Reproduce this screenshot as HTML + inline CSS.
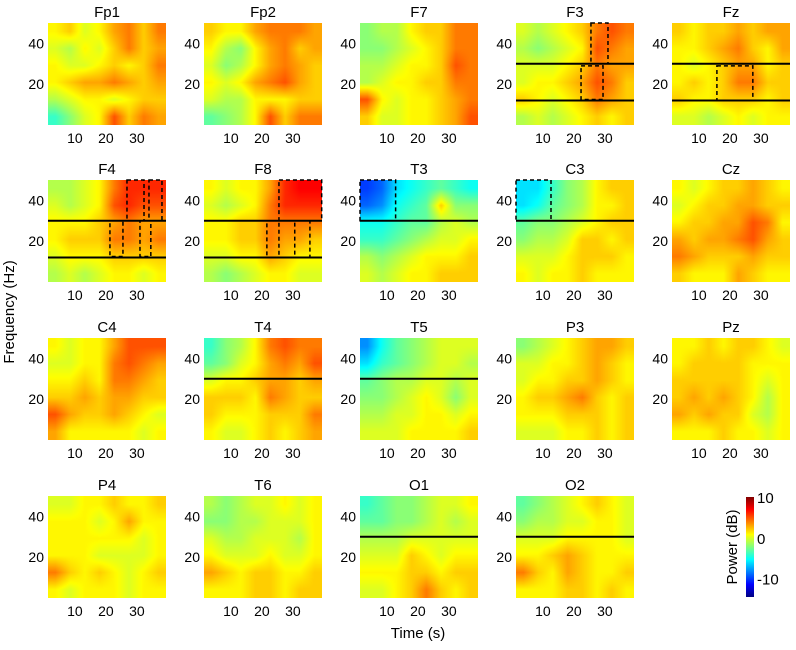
<!DOCTYPE html>
<html><head><meta charset="utf-8">
<style>
html,body{margin:0;padding:0;background:#fff;}
#root{position:relative;width:796px;height:650px;overflow:hidden;font-family:"Liberation Sans",Arial,sans-serif;}
canvas{position:absolute;}
svg{position:absolute;left:0;top:0;}
text{font-family:"Liberation Sans",Arial,sans-serif;fill:#000;}
</style></head>
<body>
<div id="root">
<svg id="ov" width="796" height="650"></svg>
</div>
<script>
// ---- data ----
const channels = ["Fp1","Fp2","F7","F3","Fz","F4","F8","T3","C3","Cz","C4","T4","T5","P3","Pz","P4","T6","O1","O2"];
const xTicks = [10,20,30];
const yTicks = [20,40];
const cbTicks = [10,0,-10];
const xDomain = [1.3,39.4];
const yDomain = [0,50];
const cDomain = [-14.5,10];
// power grids (dB): rows from high freq (top) to low freq (bottom), cols across time
const pFp1=[[1,2,0,1,3,4,2,4],[0,-1,1,0,2,4,2,3],[1,0,0,1,2,1,2,4],[1,2,3,3,4,3,2,3],[-1,0,1,1,0,1,2,2],[-4,-2,0,1,5,2,4,3]];
const pFp2=[[2,1,1,3,4,4,4,3],[1,-1,-2,1,3,4,2,3],[0,-2,-1,1,3,4,3,2],[1,0,1,3,4,5,3,2],[0,-1,-1,1,1,1,2,2],[-3,-2,-1,1,5,2,4,4]];
const pF7=[[-2,-1,-1,1,2,2,4,4],[-2,-2,-1,0,1,2,4,4],[-1,-1,0,1,1,2,5,4],[-1,0,1,1,2,2,4,4],[5,1,0,1,1,2,3,4],[2,0,0,1,1,2,3,5]];
const pF3=[[0,-1,0,1,2,4,5,4],[-1,-2,-1,0,1,5,4,3],[0,0,0,1,2,4,3,3],[0,1,1,2,3,5,4,2],[2,1,0,1,2,4,3,2],[-1,0,-1,0,1,2,1,2]];
const pFz=[[2,1,2,2,3,2,3,3],[1,1,2,3,4,2,1,3],[1,0,1,2,3,3,1,2],[1,2,1,2,4,4,2,2],[2,1,1,2,2,2,1,2],[0,0,-1,0,1,0,1,1]];
const pF4=[[-1,-1,0,1,4,6,6,6],[0,-1,0,1,5,6,5,5],[1,1,1,2,3,4,3,3],[1,2,2,2,4,4,3,4],[0,1,1,1,2,2,2,2],[-1,0,-1,0,1,1,0,1]];
const pF8=[[1,0,1,1,3,6,7,7],[0,-1,0,1,4,6,6,6],[1,1,2,2,4,4,4,4],[1,1,2,2,4,3,3,2],[0,0,1,1,3,2,1,1],[-1,-2,-1,0,1,1,0,0]];
const pT3=[[-10,-9,-6,-5,-4,-3,-4,-5],[-9,-8,-5,-4,-3,2,-2,-2],[-5,-5,-4,-3,-3,-1,0,-1],[-4,-4,-3,-2,-1,0,0,1],[-1,-2,-1,0,1,1,1,2],[0,-1,0,1,1,2,2,2]];
const pC3=[[-6,-6,-4,-2,-1,1,2,2],[-6,-5,-3,-2,-1,1,1,2],[-3,-2,-2,-1,0,1,2,2],[-2,-1,-1,0,2,2,1,2],[0,0,0,1,2,2,2,1],[1,0,1,1,2,1,1,1]];
const pCz=[[1,0,1,2,2,3,2,1],[0,1,2,2,3,3,2,2],[1,2,2,3,3,5,4,1],[3,2,3,3,4,5,3,2],[4,3,2,2,2,3,2,2],[2,1,1,1,3,2,1,1]];
const pC4=[[1,0,1,1,3,5,5,5],[0,0,1,1,4,5,4,3],[1,1,2,1,4,4,3,2],[2,2,3,2,3,3,2,2],[5,3,2,2,3,2,1,0],[3,1,1,1,1,1,0,1]];
const pT4=[[-4,-2,-1,1,4,5,4,4],[-3,-2,0,1,3,4,3,5],[0,1,1,2,3,3,2,3],[2,2,2,1,4,3,2,2],[2,1,1,1,2,2,2,4],[1,0,0,1,2,1,2,3]];
const pT5=[[-8,-5,-3,-2,-1,0,0,0],[-6,-4,-3,-2,-1,0,0,-1],[-3,-2,-1,-1,0,0,-1,0],[-2,-2,-1,0,1,0,-2,0],[-1,-1,0,0,1,1,0,1],[0,0,0,1,1,1,1,2]];
const pP3=[[-2,-1,0,1,2,3,3,2],[0,0,1,1,2,3,2,1],[0,1,1,2,2,3,2,1],[1,2,2,3,4,2,1,2],[1,1,1,2,2,2,1,2],[0,0,0,1,1,2,1,2]];
const pPz=[[1,1,2,1,2,2,1,0],[1,2,2,2,2,1,1,1],[2,2,2,2,2,1,0,1],[2,3,2,3,2,1,-1,1],[3,2,3,2,2,0,-1,1],[1,1,1,2,1,1,0,1]];
const pP4=[[0,0,1,1,2,1,1,2],[1,1,1,0,1,3,1,1],[1,1,1,1,1,1,0,1],[1,1,1,0,0,0,0,1],[4,2,1,2,1,0,1,2],[1,0,1,1,1,0,1,1]];
const pT6=[[-1,-2,-1,0,0,1,0,1],[-2,-2,-1,-1,0,0,0,1],[0,-1,-1,0,0,0,-1,1],[1,0,0,0,1,0,0,1],[3,2,1,2,2,1,1,2],[1,1,1,2,2,1,2,2]];
const pO1=[[-4,-3,-2,-2,-1,0,0,1],[-3,-3,-2,-2,-1,0,-1,0],[-1,-1,-1,0,0,0,0,0],[0,0,0,2,1,0,1,1],[1,1,1,2,2,1,2,2],[0,0,1,2,4,2,1,2]];
const pO2=[[-3,-2,-1,0,1,2,1,0],[-2,-1,-1,0,0,1,1,0],[0,0,0,1,1,1,1,0],[1,1,2,3,2,1,1,1],[4,2,1,3,2,1,1,2],[1,1,1,2,2,1,2,1]];
const grids=[pFp1,pFp2,pF7,pF3,pFz,pF4,pF8,pT3,pC3,pCz,pC4,pT4,pT5,pP3,pPz,pP4,pT6,pO1,pO2];
// horizontal band lines (Hz) per channel
const bandLines={F3:[30,12],Fz:[30,12],F4:[30,12],F8:[30,12],T3:[30],C3:[30],T4:[30],T5:[30],O1:[30],O2:[30]};
// dashed boxes [t0,t1,f0,f1]
const boxes={F3:[[25.5,31,30,50],[22.3,29.4,12.5,29]],Fz:[[15.8,27.4,12,29]],F4:[[26.8,32.3,30,50],[33.9,38.1,30,50],[21.3,25.5,12.5,30],[31,34.5,12.5,30]],F8:[[25.5,39.3,30,50],[21.6,25.5,12,30],[30.6,35.5,12,30]],T3:[[1.3,12.8,30,50]],C3:[[1.3,12.6,30,50]]};
// ---- layout ----
const colX=[48,204,360,516,672], rowY=[23,180,338,496], PW=118, PH=102;
const NS='http://www.w3.org/2000/svg';
const ov=document.getElementById('ov'), root=document.getElementById('root');
function jet(t){t=Math.max(0,Math.min(1,t));const c=v=>Math.round(255*Math.max(0,Math.min(1,v)));return [c(1.5-Math.abs(4*t-3)),c(1.5-Math.abs(4*t-2)),c(1.5-Math.abs(4*t-1))];}
function cNorm(v){return (v-cDomain[0])/(cDomain[1]-cDomain[0]);}
function mk(tag,attrs,parent){const e=document.createElementNS(NS,tag);for(const k in attrs)e.setAttribute(k,attrs[k]);(parent||ov).appendChild(e);return e;}
channels.forEach((ch,i)=>{
  const x0=colX[i%5], y0=rowY[Math.floor(i/5)];
  const sx=t=>x0+(t-xDomain[0])/(xDomain[1]-xDomain[0])*PW;
  const sy=f=>y0+PH-(f-yDomain[0])/(yDomain[1]-yDomain[0])*PH;
  const cv=document.createElement('canvas');
  cv.width=PW;cv.height=PH;cv.style.left=x0+'px';cv.style.top=y0+'px';
  
  
  root.insertBefore(cv,ov);
  const g=grids[i], R=g.length, C=g[0].length, ctx=cv.getContext('2d'), im=ctx.createImageData(PW,PH);
  for(let y=0;y<PH;y++)for(let x=0;x<PW;x++){
    const gx=Math.max(0,Math.min(C-1,(x+0.5)/PW*C-0.5)), gy=Math.max(0,Math.min(R-1,(y+0.5)/PH*R-0.5));
    const ix=Math.min(C-2,Math.floor(gx)), iy=Math.min(R-2,Math.floor(gy)), fx=gx-ix, fy=gy-iy;
    const v=(g[iy][ix]*(1-fx)+g[iy][ix+1]*fx)*(1-fy)+(g[iy+1][ix]*(1-fx)+g[iy+1][ix+1]*fx)*fy;
    const [r,gg,b]=jet(cNorm(v)); const p=(y*PW+x)*4;
    im.data[p]=r;im.data[p+1]=gg;im.data[p+2]=b;im.data[p+3]=255;
  }
  ctx.putImageData(im,0,0);
  const t=mk('text',{x:x0+PW/2,y:y0-6,'text-anchor':'middle','font-size':15});
  t.textContent=ch;
  
  
  xTicks.forEach(v=>{const e=mk('text',{x:sx(v),y:y0+PH+18,'text-anchor':'middle','font-size':14});e.textContent=v;
    
    });
  yTicks.forEach(v=>{const e=mk('text',{x:x0-4,y:sy(v)+5,'text-anchor':'end','font-size':14});e.textContent=v;
    
    });
  (bandLines[ch]||[]).forEach(f=>{const l=mk('line',{x1:x0,x2:x0+PW,y1:sy(f),y2:sy(f),stroke:'#000','stroke-width':2});
    
    });
  (boxes[ch]||[]).forEach(b=>{const r=mk('rect',{x:sx(b[0]),y:sy(b[3]),width:sx(b[1])-sx(b[0]),height:sy(b[2])-sy(b[3]),fill:'none',stroke:'#000','stroke-width':1.5,'stroke-dasharray':'4,3'});
    
    });
});
// axis titles
const yl=mk('text',{x:0,y:0,'text-anchor':'middle','font-size':15,transform:'translate(14,312) rotate(-90)'});yl.textContent='Frequency (Hz)';


const xl=mk('text',{x:418,y:638,'text-anchor':'middle','font-size':15});xl.textContent='Time (s)';


// colorbar
const cbX=746,cbY=497,cbW=8,cbH=100;
const defs=mk('defs',{});const lg=mk('linearGradient',{id:'jg',x1:0,y1:1,x2:0,y2:0},defs);
for(let k=0;k<=8;k++){const [r,g,b]=jet(k/8);mk('stop',{offset:k/8,'stop-color':`rgb(${r},${g},${b})`},lg);}
const cb=mk('rect',{x:cbX,y:cbY,width:cbW,height:cbH,fill:'url(#jg)'});


cbTicks.forEach(v=>{const y=cbY+cbH-cNorm(v)*cbH;const e=mk('text',{x:cbX+cbW+3,y:y+6,'font-size':15});e.textContent=v;
  
  });
const cl=mk('text',{x:0,y:0,'text-anchor':'middle','font-size':15,transform:'translate(737,547) rotate(-90)'});cl.textContent='Power (dB)';


</script>
</body></html>
